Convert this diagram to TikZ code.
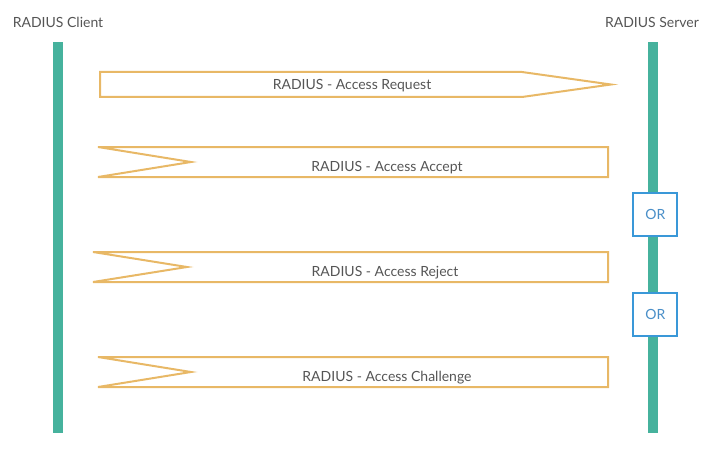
\documentclass[tikz,border=0pt]{standalone}
\usepackage{fontspec}
\setmainfont{Lato}
\definecolor{lifeline}{HTML}{46B29D}
\definecolor{msg}{HTML}{E8B866}
\definecolor{orblue}{HTML}{3A98D8}
\definecolor{ortext}{HTML}{4A8FC8}
\definecolor{txt}{HTML}{555555}
\begin{document}
\begin{tikzpicture}[x=1pt,y=-1pt,
  lbl/.style={text=txt,font=\fontsize{14}{16}\selectfont,inner sep=0pt},
  msgline/.style={draw=msg,line width=2pt,line join=miter},
  lifebar/.style={fill=lifeline,draw=none},
  orbox/.style={draw=orblue,line width=2pt,fill=white,minimum width=44pt,minimum height=43pt,inner sep=0pt,text=ortext,font=\fontsize{14}{16}\selectfont}]
\useasboundingbox (0,0) rectangle (726,452);
% lifelines
\fill[lifebar] (53,42) rectangle (63,433);
\fill[lifebar] (648,42) rectangle (658,433);
\node[lbl] (client) at (58,22) {RADIUS Client};
\node[lbl] (server) at (652,22) {RADIUS Server};
% request
\draw[msgline] (100,72) -- (522,72) -- (611,84.5) -- (522,97) -- (100,97) -- cycle;
\node[lbl] (req) at (352,85.5) {RADIUS - Access Request};
% accept
\draw[msgline] (98,147) -- (608,147) -- (608,177) -- (98,177) -- (191,162) -- cycle;
\node[lbl] (acc) at (387,167.5) {RADIUS - Access Accept};
% reject
\draw[msgline] (93,252) -- (608,252) -- (608,282) -- (93,282) -- (187,267) -- cycle;
\node[lbl] (rej) at (385,272.5) {RADIUS - Access Reject};
% challenge
\draw[msgline] (98,357) -- (608,357) -- (608,387) -- (98,387) -- (191,372) -- cycle;
\node[lbl] (chal) at (387,377.5) {RADIUS - Access Challenge};
% OR boxes
\node[orbox] (or1) at (655.3,214.2) {OR};
\node[orbox] (or2) at (655.3,314.2) {OR};
\end{tikzpicture}
\end{document}
